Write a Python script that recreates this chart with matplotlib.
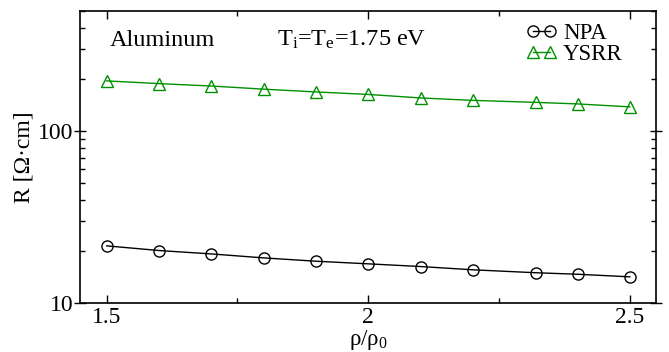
import numpy as np
import matplotlib
matplotlib.use('Agg')
import matplotlib.pyplot as plt
from matplotlib.ticker import FixedLocator, NullFormatter, LogLocator

plt.rcParams['font.family'] = ['Liberation Serif', 'DejaVu Serif']
plt.rcParams['mathtext.fontset'] = 'custom'
plt.rcParams['mathtext.rm'] = 'Liberation Serif'
plt.rcParams['mathtext.it'] = 'Liberation Serif:italic'

# Данные
rho = [1.5, 1.6, 1.7, 1.8, 1.9, 2.0, 2.1, 2.2, 2.32, 2.4, 2.5]
R_npa = [21.5, 20.2, 19.3, 18.3, 17.5, 16.9, 16.3, 15.6, 15.0, 14.7, 14.2]
R_ysrr = [196, 189, 183, 175.5, 169, 163.5, 156, 151, 147, 144, 138.4]
xticks = [1.5, 2.0, 2.5]
xticklabels = ['1.5', '2', '2.5']

green = '#009000'

fig = plt.figure(figsize=(6.69, 3.52), dpi=100)
ax = fig.add_axes([80 / 669, 1 - 303 / 352, 576 / 669, 292 / 352])

ax.plot(rho, R_npa, '-', color='black', lw=1, marker='o', ms=8,
        mfc='none', mec='black', mew=1, label='NPA')
ax.plot(rho, R_ysrr, '-', color=green, lw=1, marker='^', ms=8,
        mfc='none', mec=green, mew=1, label='YSRR')

ax.set_yscale('log')
ax.set_xlim(1.449, 2.55)
ax.set_ylim(10, 500)

ax.xaxis.set_major_locator(FixedLocator(xticks))
ax.set_xticklabels(xticklabels)
ax.xaxis.set_minor_locator(FixedLocator([1.75, 2.25]))
ax.yaxis.set_minor_locator(LogLocator(base=10, subs=np.arange(2, 10), numticks=20))
ax.yaxis.set_minor_formatter(NullFormatter())
ax.set_yticks([10, 100])
ax.set_yticklabels(['10', '100'])

ax.tick_params(axis='x', which='major', direction='in', length=6, width=1,
               top=True, labelsize=17, pad=3)
ax.tick_params(axis='x', which='minor', direction='in', length=3.5, width=1, top=True)
ax.tick_params(axis='y', which='major', direction='inout', length=8, width=1,
               right=True, labelsize=17, pad=1)
ax.tick_params(axis='y', which='minor', direction='in', length=3.5, width=1, right=True)

for s in ax.spines.values():
    s.set_linewidth(1.2)

ax.set_xlabel('ρ/ρ$_0$', fontsize=16.5, labelpad=0)
ax.set_ylabel('R [Ω·cm]', fontsize=17, labelpad=2)

ax.text(0.052, 0.90, 'Aluminum', transform=ax.transAxes, fontsize=17.5, va='center')
ax.text(0.342, 0.90, r'T$_\mathrm{i}$=T$_\mathrm{e}$=1.75 eV', transform=ax.transAxes,
        fontsize=17.5, va='center')

ax.legend(loc='upper left', bbox_to_anchor=(0.775, 0.96), frameon=False,
          fontsize=16.5, numpoints=2, handlelength=1.35, handletextpad=0.25,
          labelspacing=0.0, borderpad=0, borderaxespad=0)

fig.savefig('out.png', dpi=100)
